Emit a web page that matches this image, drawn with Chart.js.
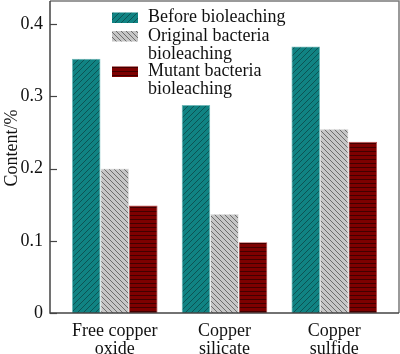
<!DOCTYPE html>
<html>
<head>
<meta charset="utf-8">
<script src="https://cdn.jsdelivr.net/npm/chart.js@4.4.0/dist/chart.umd.min.js"></script>
<style>
  html, body { margin: 0; padding: 0; background: #fff; }
  #wrap { width: 400px; height: 354px; }
</style>
</head>
<body>
<div id="wrap"><canvas id="chart"></canvas></div>
<script>
const categories = [["Free copper", "oxide"], ["Copper", "silicate"], ["Copper", "sulfide"]];
const seriesNames = [["Before bioleaching"], ["Original bacteria", "bioleaching"], ["Mutant bacteria", "bioleaching"]];
const beforeValues = [0.352, 0.288, 0.369];
const originalValues = [0.2, 0.137, 0.255];
const mutantValues = [0.149, 0.098, 0.237];
const yTicks = [0, 0.1, 0.2, 0.3, 0.4];

const FONT = '"Liberation Serif", "Times New Roman", serif';

// hatch patterns
function makePattern(bg, line, kind, size, lw) {
  const c = document.createElement("canvas");
  c.width = size;
  c.height = size;
  const g = c.getContext("2d");
  g.fillStyle = bg;
  g.fillRect(0, 0, size, size);
  g.strokeStyle = line;
  g.lineWidth = lw;
  g.beginPath();
  if (kind === "fwd") {
    g.moveTo(0, size); g.lineTo(size, 0);
    g.moveTo(-1, 1); g.lineTo(1, -1);
    g.moveTo(size - 1, size + 1); g.lineTo(size + 1, size - 1);
  } else if (kind === "back") {
    g.moveTo(0, 0); g.lineTo(size, size);
    g.moveTo(size - 1, -1); g.lineTo(size + 1, 1);
    g.moveTo(-1, size - 1); g.lineTo(1, size + 1);
  } else {
    g.moveTo(0, size - 0.5); g.lineTo(size, size - 0.5);
  }
  g.stroke();
  return g.createPattern(c, "repeat");
}

const tealFill = makePattern("#108383", "#0b4848", "fwd", 6, 0.8);
const grayFill = makePattern("#c6c6c6", "#555", "back", 5, 0.8);
const redFill = makePattern("#7e0000", "#420000", "horiz", 4, 1);

function points(vals) {
  return vals.map((v, i) => ({ x: i + 1, y: v }));
}

function noPad(s) {
  s.paddingTop = 0;
  s.paddingBottom = 0;
  s.paddingLeft = 0;
  s.paddingRight = 0;
}

const framePlugin = {
  id: "frame",
  afterDraw(chart) {
    const { ctx, chartArea: a, scales } = chart;
    ctx.save();
    // frame
    ctx.strokeStyle = "#7a7a7a";
    ctx.lineWidth = 1.5;
    ctx.beginPath();
    ctx.moveTo(a.left, a.top);
    ctx.lineTo(a.right, a.top);
    ctx.lineTo(a.right, a.bottom);
    ctx.stroke();
    ctx.strokeStyle = "#444";
    ctx.beginPath();
    ctx.moveTo(a.left, a.top);
    ctx.lineTo(a.left, a.bottom);
    ctx.lineTo(a.right, a.bottom);
    ctx.stroke();
    // inward y ticks
    ctx.lineWidth = 1.2;
    yTicks.forEach((t) => {
      const y = Math.round(scales.y.getPixelForValue(t)) + 0.5;
      ctx.beginPath();
      ctx.moveTo(a.left, y);
      ctx.lineTo(a.left + 7, y);
      ctx.stroke();
    });
    // y title
    ctx.fillStyle = "#111";
    ctx.font = "18px " + FONT;
    ctx.textAlign = "center";
    ctx.textBaseline = "middle";
    ctx.translate(12, 148);
    ctx.rotate(-Math.PI / 2);
    ctx.fillText("Content/%", 0, 0);
    ctx.restore();

    // legend
    ctx.save();
    ctx.font = "18px " + FONT;
    ctx.textAlign = "left";
    ctx.textBaseline = "alphabetic";
    const baselines = [22, 40.5, 76];
    chart.data.datasets.forEach((ds, i) => {
      const b = baselines[i];
      ctx.fillStyle = ds.backgroundColor;
      ctx.fillRect(112, b - 9.5, 26, 10.5);
      ctx.fillStyle = "#111";
      seriesNames[i].forEach((line, j) => {
        ctx.fillText(line, 148, b + j * 18);
      });
    });
    ctx.restore();
  }
};

new Chart(document.getElementById("chart"), {
  type: "bar",
  data: {
    datasets: [
      { label: seriesNames[0].join(" "), data: points(beforeValues), backgroundColor: tealFill, borderColor: "#6fbcbc", borderWidth: 0.8 },
      { label: seriesNames[1].join(" "), data: points(originalValues), backgroundColor: grayFill, borderColor: "#e6e6e6", borderWidth: 0.8 },
      { label: seriesNames[2].join(" "), data: points(mutantValues), backgroundColor: redFill, borderColor: "#b85050", borderWidth: 0.8 },
    ],
  },
  options: {
    responsive: true,
    maintainAspectRatio: false,
    animation: false,
    layout: { padding: { top: 1, right: 1, left: 0, bottom: 0 } },
    plugins: { legend: { display: false }, tooltip: { enabled: false } },
    datasets: { bar: { categoryPercentage: 0.78, barPercentage: 1.0 } },
    scales: {
      x: {
        type: "linear",
        min: 0.41,
        max: 3.59,
        offset: false,
        grid: { display: false, drawTicks: false, offset: false },
        border: { display: false },
        afterBuildTicks: (s) => { s.ticks = categories.map((c, i) => ({ value: i + 1 })); },
        afterFit: (s) => { s.height = 41; noPad(s); },
        ticks: {
          autoSkip: false,
          maxRotation: 0,
          padding: 9,
          color: "#111",
          font: { family: FONT, size: 18, lineHeight: 1.0 },
          callback: (v) => categories[v - 1],
        },
      },
      y: {
        min: 0,
        max: 0.432,
        grid: { display: false, drawTicks: false },
        border: { display: false },
        afterBuildTicks: (s) => { s.ticks = yTicks.map((v) => ({ value: v })); },
        afterFit: (s) => { s.width = 50; noPad(s); },
        ticks: {
          padding: 7,
          color: "#111",
          font: { family: FONT, size: 18 },
          callback: (v) => (v === 0 ? "0" : v.toFixed(1)),
        },
      },
    },
  },
  plugins: [framePlugin],
});
</script>
</body>
</html>
